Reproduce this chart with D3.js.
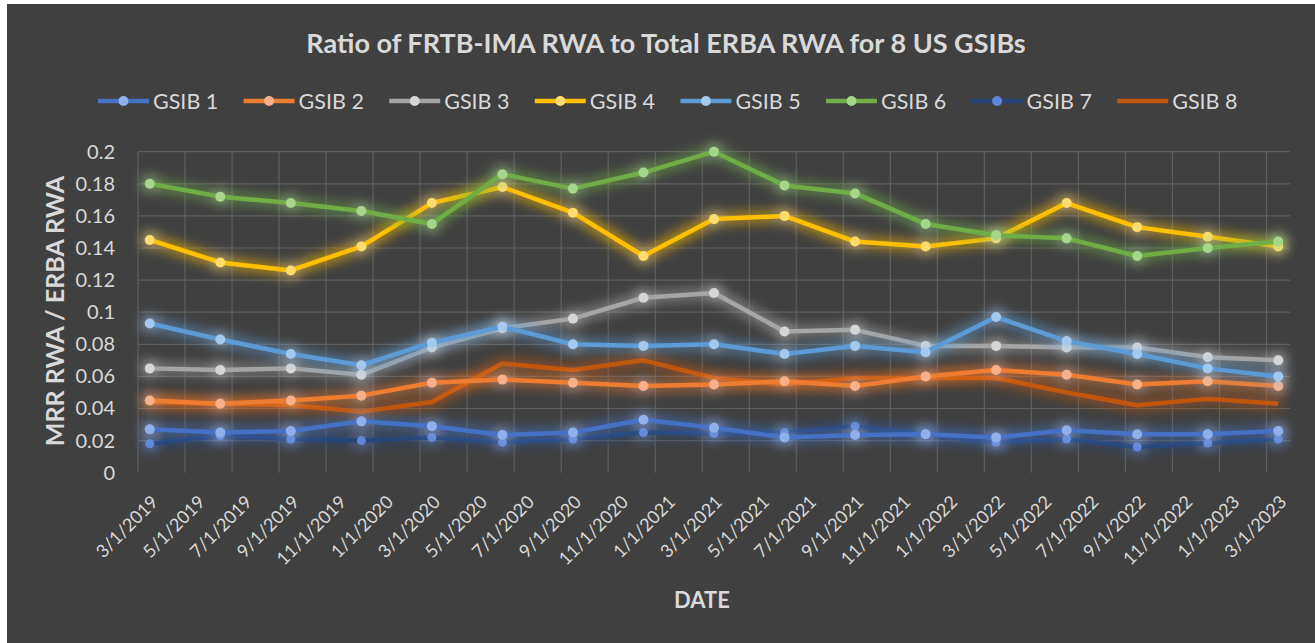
<!DOCTYPE html>
<html lang="en">
<head>
    <meta charset="UTF-8">
    <script src="https://d3js.org/d3.v7.min.js"></script>
    <style>
        body { margin: 0; background: #fff; }
        text { font-family: Lato, "Open Sans", sans-serif; }
    </style>
</head>
<body>
    <div id="chart"></div>
    <script>
        var quarters = ["3/1/2019", "6/1/2019", "9/1/2019", "12/1/2019", "3/1/2020", "6/1/2020", "9/1/2020", "12/1/2020",
            "3/1/2021", "6/1/2021", "9/1/2021", "12/1/2021", "3/1/2022", "6/1/2022", "9/1/2022", "12/1/2022", "3/1/2023"];

        var dateTicks = ["3/1/2019", "5/1/2019", "7/1/2019", "9/1/2019", "11/1/2019", "1/1/2020", "3/1/2020", "5/1/2020",
            "7/1/2020", "9/1/2020", "11/1/2020", "1/1/2021", "3/1/2021", "5/1/2021", "7/1/2021", "9/1/2021", "11/1/2021",
            "1/1/2022", "3/1/2022", "5/1/2022", "7/1/2022", "9/1/2022", "11/1/2022", "1/1/2023", "3/1/2023"];

        var yTicks = [0, 0.02, 0.04, 0.06, 0.08, 0.1, 0.12, 0.14, 0.16, 0.18, 0.2];

        var names = ["GSIB 1", "GSIB 2", "GSIB 3", "GSIB 4", "GSIB 5", "GSIB 6", "GSIB 7", "GSIB 8"];

        var gsib1 = [0.027, 0.025, 0.026, 0.032, 0.029, 0.0235, 0.025, 0.033, 0.028, 0.022, 0.0235, 0.024, 0.022, 0.0265, 0.024, 0.024, 0.026];
        var gsib2 = [0.045, 0.043, 0.045, 0.048, 0.056, 0.058, 0.056, 0.054, 0.055, 0.057, 0.054, 0.060, 0.064, 0.061, 0.055, 0.057, 0.054];
        var gsib3 = [0.065, 0.064, 0.065, 0.061, 0.078, 0.090, 0.096, 0.109, 0.112, 0.088, 0.089, 0.079, 0.079, 0.078, 0.078, 0.072, 0.070];
        var gsib4 = [0.145, 0.131, 0.126, 0.141, 0.168, 0.178, 0.162, 0.135, 0.158, 0.160, 0.144, 0.141, 0.146, 0.168, 0.153, 0.147, 0.141];
        var gsib5 = [0.093, 0.083, 0.074, 0.067, 0.081, 0.091, 0.080, 0.079, 0.080, 0.074, 0.079, 0.075, 0.097, 0.082, 0.074, 0.065, 0.060];
        var gsib6 = [0.180, 0.172, 0.168, 0.163, 0.155, 0.186, 0.177, 0.187, 0.200, 0.179, 0.174, 0.155, 0.148, 0.146, 0.135, 0.140, 0.144];
        var gsib7 = [0.018, 0.023, 0.021, 0.020, 0.022, 0.019, 0.021, 0.025, 0.0245, 0.025, 0.029, 0.024, 0.019, 0.021, 0.016, 0.0185, 0.021];
        var gsib8 = [0.044, 0.043, 0.042, 0.038, 0.044, 0.068, 0.064, 0.070, 0.059, 0.055, 0.059, 0.059, 0.059, 0.050, 0.042, 0.046, 0.043];

        var lineColors = ["#4472c4", "#ed7d31", "#a5a5a5", "#ffc000", "#5b9bd5", "#70ad47", "#264478", "#c0560f"];
        var markerColors = ["#8fb0ea", "#f7b089", "#d6d6d6", "#ffdc6e", "#a3c9ee", "#a6d68a", "#5f86d8", null];

        var allSeries = [gsib1, gsib2, gsib3, gsib4, gsib5, gsib6, gsib7, gsib8];

        var width = 1315,
            height = 643;
        var plotLeft = 138, plotRight = 1290, plotTop = 151.7, plotBottom = 472.7;

        var parse = d3.timeParse("%m/%d/%Y");
        var key = d3.timeFormat("%Y-%m");

        // one band per month, Excel puts points in the middle of the month slot
        var months = d3.timeMonth.range(parse("3/1/2019"), parse("4/1/2023"));

        var x = d3.scaleBand()
            .domain(months.map(key))
            .range([plotLeft, plotRight]);

        var y = d3.scaleLinear()
            .domain([0, 0.2])
            .range([plotBottom, plotTop]);

        var svg = d3.select("#chart")
            .append("svg")
            .attr("width", width)
            .attr("height", height);

        var defs = svg.append("defs");
        var glow = defs.append("filter")
            .attr("id", "glow")
            .attr("filterUnits", "userSpaceOnUse")
            .attr("x", 0).attr("y", 0)
            .attr("width", width).attr("height", height);
        glow.append("feMorphology").attr("in", "SourceGraphic").attr("operator", "dilate").attr("radius", 3).attr("result", "d");
        glow.append("feGaussianBlur").attr("in", "d").attr("stdDeviation", 6).attr("result", "b");
        glow.append("feComponentTransfer").attr("in", "b").attr("result", "bb")
            .append("feFuncA").attr("type", "linear").attr("slope", 0.6);
        var merge = glow.append("feMerge");
        merge.append("feMergeNode").attr("in", "bb");
        merge.append("feMergeNode").attr("in", "SourceGraphic");

        svg.append("rect")
            .attr("x", 7)
            .attr("y", 4)
            .attr("width", width - 7)
            .attr("height", height - 4)
            .attr("fill", "#404040");

        // gridlines
        svg.append("g")
            .selectAll("line")
            .data(yTicks.slice(1))
            .enter()
            .append("line")
            .attr("x1", plotLeft)
            .attr("x2", plotRight)
            .attr("y1", function (d) { return y(d); })
            .attr("y2", function (d) { return y(d); })
            .attr("stroke", "#5e5e5e")
            .attr("stroke-width", 1.2);

        svg.append("g")
            .selectAll("line")
            .data(dateTicks)
            .enter()
            .append("line")
            .attr("x1", function (d) { return x(key(parse(d))); })
            .attr("x2", function (d) { return x(key(parse(d))); })
            .attr("y1", plotTop)
            .attr("y2", plotBottom)
            .attr("stroke", "#5e5e5e")
            .attr("stroke-width", 1.2);

        // axes
        var yAxis = svg.append("g")
            .attr("transform", "translate(" + (plotLeft - 20) + ",0)")
            .call(d3.axisLeft(y).tickValues(yTicks).tickSize(0).tickFormat(function (d) { return String(+d.toFixed(2)); }));
        yAxis.select(".domain").remove();
        yAxis.selectAll("text")
            .attr("fill", "#d9d9d9")
            .style("font-size", "20px");

        var xAxis = svg.append("g")
            .attr("transform", "translate(0," + plotBottom + ")")
            .call(d3.axisBottom(x).tickValues(dateTicks.map(function (d) { return key(parse(d)); })).tickSize(0)
                .tickFormat(function (k, i) { return dateTicks[i]; }));
        xAxis.select(".domain").remove();
        xAxis.selectAll("text")
            .attr("y", 0)
            .attr("dy", "0.35em")
            .attr("text-anchor", "end")
            .attr("transform", "translate(5,26) rotate(-45)")
            .attr("fill", "#d9d9d9")
            .style("font-size", "18px");

        // series
        var line = d3.line()
            .x(function (d, i) { return x(key(parse(quarters[i]))) + x.bandwidth() / 2; })
            .y(function (d) { return y(d); });

        var drawOrder = [7, 6, 0, 1, 2, 4, 3, 5];
        drawOrder.forEach(function (s) {
            var g = svg.append("g").attr("filter", "url(#glow)");
            g.append("path")
                .datum(allSeries[s])
                .attr("d", line)
                .attr("fill", "none")
                .attr("stroke", lineColors[s])
                .attr("stroke-width", 4.5)
                .attr("stroke-linejoin", "round");
            if (markerColors[s]) {
                g.selectAll("circle")
                    .data(allSeries[s])
                    .enter()
                    .append("circle")
                    .attr("cx", function (d, i) { return x(key(parse(quarters[i]))) + x.bandwidth() / 2; })
                    .attr("cy", function (d) { return y(d); })
                    .attr("r", s == 6 ? 4.5 : 5)
                    .attr("fill", markerColors[s]);
            }
        });

        // legend
        var legend = svg.append("g")
            .selectAll("g")
            .data(names)
            .enter()
            .append("g")
            .attr("transform", function (d, i) { return "translate(" + (98 + i * 145.6) + ",101)"; });
        legend.append("line")
            .attr("x1", 0).attr("x2", 51)
            .attr("stroke", function (d, i) { return lineColors[i]; })
            .attr("stroke-width", 4.5);
        legend.filter(function (d, i) { return markerColors[i]; })
            .append("circle")
            .attr("cx", 25.5)
            .attr("r", 5)
            .attr("fill", function (d) { return markerColors[names.indexOf(d)]; });
        legend.append("text")
            .attr("x", 55)
            .attr("dy", "0.36em")
            .attr("fill", "#d9d9d9")
            .style("font-size", "21.5px")
            .text(function (d) { return d; });

        // titles
        svg.append("text")
            .attr("x", 666)
            .attr("y", 53)
            .attr("text-anchor", "middle")
            .attr("fill", "#d9d9d9")
            .style("font-size", "27px")
            .style("font-weight", "bold")
            .text("Ratio of FRTB-IMA RWA to Total ERBA RWA for 8 US GSIBs");

        svg.append("text")
            .attr("transform", "translate(64,311) rotate(-90)")
            .attr("text-anchor", "middle")
            .attr("fill", "#d9d9d9")
            .style("font-size", "25px")
            .style("font-weight", "bold")
            .text("MRR RWA / ERBA RWA");

        svg.append("text")
            .attr("x", 702)
            .attr("y", 608)
            .attr("text-anchor", "middle")
            .attr("fill", "#d9d9d9")
            .style("font-size", "22px")
            .style("font-weight", "bold")
            .text("DATE");
    </script>
</body>
</html>
